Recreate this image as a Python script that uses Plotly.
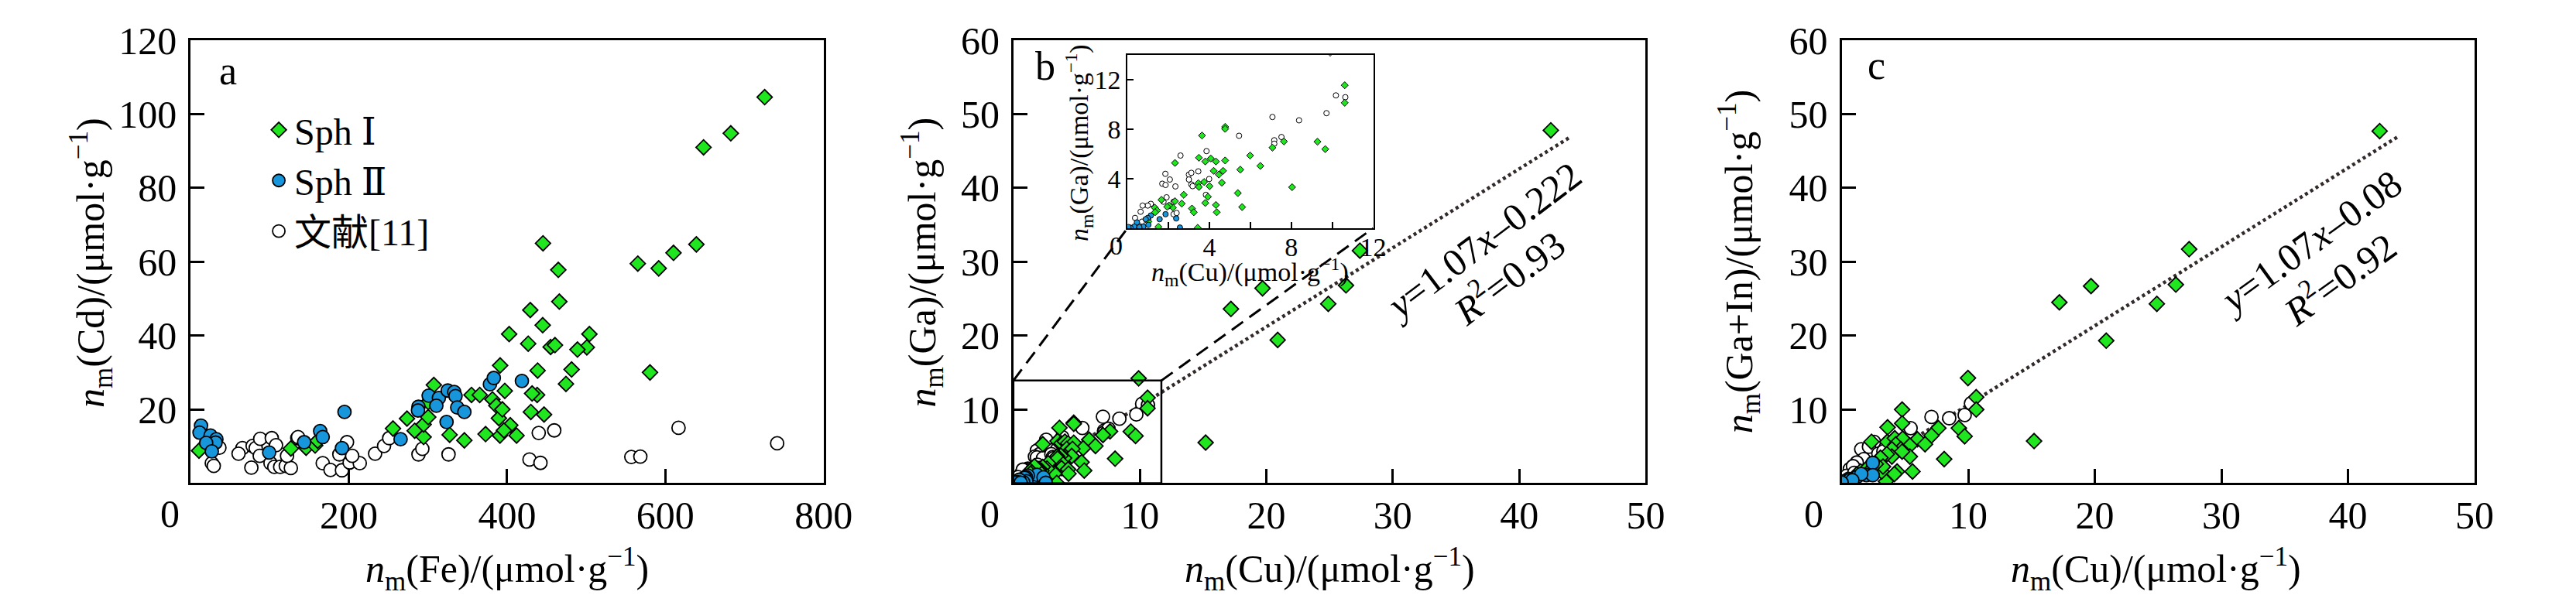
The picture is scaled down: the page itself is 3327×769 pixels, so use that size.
import plotly.graph_objects as go

W, H = 3327, 769
FONT = "Liberation Serif, DejaVu Serif, Noto Sans CJK SC, serif"
GREEN = "#1fe61f"
BLUE = "#1896dc"

# ----- data: panel a, Fe vs Cd -----
a_sph1_fe = [10.6, 126.7, 146, 157.4, 160.6, 255.8, 273.5, 283.2, 294.5, 294.5, 300.3, 300.3,
             307.4, 327.4, 346, 355, 365.4, 372.8, 381.5, 386.4, 391.2, 389.6, 391,
             725.5, 682.7, 648.3, 445.4, 464.7, 565.2, 591.6, 610.3, 639.2, 466, 429.3, 445,
             402.6, 426.7, 455, 460.5, 504, 500.8, 488.9, 580.6, 438.6, 481.5, 474.4, 397.1,
             438, 431.6, 430, 446.7, 394, 404, 396, 412]
a_sph1_cd = [8.8, 9.4, 9.6, 10.2, 11.5, 14.8, 17.5, 14.2, 12.5, 15.9, 17.9, 22,
             26.6, 13.1, 11.6, 23.9, 23.9, 13.3, 22.7, 21, 31.9, 17.6, 12.9,
             104.6, 94.8, 91.0, 65.0, 57.8, 59.5, 58.2, 62.4, 64.7, 49.2, 46.9, 42.8,
             40.4, 37.8, 36.9, 37.4, 40.4, 36.8, 36.2, 30.0, 30.5, 30.8, 26.9, 25.0,
             23.9, 24.3, 19.3, 18.6, 20.0, 15.7, 14.3, 12.9]
a_sph2_fe = [13.2, 11.3, 25.2, 32.6, 31.6, 19.7, 26.8, 99.3, 143.5, 163.8, 167, 194.5, 191.3,
             265.4, 288, 287.4, 300.9, 313.8, 310.6, 325, 333.2, 334.8, 337, 346, 323.5,
             378.3, 383.2, 418.7]
a_sph2_cd = [15.6, 13.7, 12.9, 11.9, 11.0, 10.9, 8.6, 8.3, 11.1, 14.1, 12.5, 19.3, 9.5,
             11.9, 20.7, 19.7, 23.7, 23.1, 21, 25.1, 24.7, 23.6, 20.5, 19.3, 16.6,
             26.8, 28.5, 27.7]
a_lit_fe = [26.8, 29.3, 36.4, 65.5, 60.6, 78.4, 82.3, 88, 102.6, 108, 87.4, 76.8, 101, 105.8,
            113.2, 120.3, 126.7, 121.9, 134.8, 135.8, 167, 176.8, 191.3, 188, 197.7, 201,
            213.8, 204.2, 233.2, 244.5, 251, 288, 292.9, 326, 440, 459.6, 616.7, 741.3,
            557, 568.4, 428.3, 442.2]
a_lit_cd = [5.4, 4.7, 9.6, 9.5, 8, 10.1, 9.5, 12, 12.2, 10.3, 7.4, 4.2, 5.4, 4.4,
            4.4, 4.7, 4.1, 7.4, 12.2, 12.5, 5.4, 3.6, 3.5, 7.8, 11.1, 5.6,
            5.4, 7.4, 8, 10.1, 12.2, 7.8, 9.3, 7.8, 13.6, 14.3, 15, 10.8,
            7.1, 7.2, 6.4, 5.5]

# ----- data: panel b, Cu vs Ga -----
b_sph1_cu = [10.61, 10.61, 9.28, 9.66, 7.64, 7.08, 8.04, 5.99, 6.49, 5.51, 5.39, 5.6, 4.77,
             4.77, 3.64, 3.49, 3.8, 4.07, 4.32, 4.77, 4.21, 4.46, 4.67, 4.61, 4.01, 3.74,
             3.46, 3.49, 3.93, 3.8, 4.32, 4.36, 3.15, 3.24, 3.43, 2.32, 2.75, 2.65, 2.32,
             2.22, 2.03, 1.94, 1.66, 1.51, 1.33, 1.45, 1.35, 1.02,
             42.5, 27.4, 19.7, 17.2, 26.3, 24.9, 20.9, 15.2, 9.9]
b_sph1_ga = [11.57, 10.15, 7.0, 6.4, 7.02, 6.52, 3.32, 5.88, 5.04, 4.74, 2.84, 1.71, 8.2,
             8.04, 7.5, 5.7, 5.4, 5.64, 5.4, 5.48, 4.64, 4.34, 4.64, 3.68, 3.4, 3.74,
             3.64, 3.34, 2.54, 2.04, 1.88, 1.29, 1.59, 1.29, 0.03, 5.28, 2.7, 1.99, 2.19,
             1.67, 1.83, 1.73, 2.3, 0.11, 1.67, 1.43, 1.29, 0.53,
             47.8, 31.5, 26.4, 23.6, 26.8, 24.3, 19.4, 5.5, 14.2]
b_sph2_cu = [1.57, 1.86, 2.38, 2.56, 1.14, 0.99, 0.89, 1.02, 0.77, 0.46, 0.33, 0.15, 0.05, 0.58]
b_sph2_ga = [0.73, 1.13, 0.79, 0.05, 1.03, 0.83, 0.73, 0.27, 0.13, 0.47, 0.13, 0.03, 0.09, 0.07]
b_lit_cu = [10.18, 10.64, 9.72, 8.38, 7.08, 7.17, 7.17, 7.52, 5.45, 3.86, 2.59, 1.85, 2.07,
            1.7, 1.86, 2.34, 3.0, 3.12, 3.46, 3.0, 3.12, 3.18, 3.99, 3.83, 1.91, 1.76,
            2.25, 2.25, 2.4, 1.14, 0.99, 0.64, 0.74, 0.37, 0.71, 1.02]
b_lit_ga = [10.75, 10.6, 9.31, 8.73, 9.0, 7.12, 6.84, 7.38, 7.48, 6.24, 5.88, 4.4, 3.94,
            3.6, 3.5, 3.38, 4.34, 4.48, 4.6, 3.94, 3.54, 3.4, 3.98, 2.7, 2.5, 2.14,
            2.14, 1.13, 1.23, 1.97, 1.83, 1.33, 1.83, 0.83, 0.53, 0.73]

# ----- data: panel c, Cu vs Ga+In -----
c_sph1_cu = [42.5, 27.45, 19.7, 17.2, 26.4, 24.9, 20.9, 15.2, 9.98, 10.63, 10.63,
             4.78, 4.78, 9.26, 9.72, 7.64, 7.1, 5.99, 6.59, 3.63, 2.36, 3.6, 4.2, 4.82, 5.39,
             4.27, 4.68, 3.97, 5.39, 4.78, 3.97, 3.57, 3.07, 8.1, 4.38, 5.6, 3.5, 3.16,
             4.17, 3.27, 1.5, 2.0, 2.3, 1.2, 2.7]
c_sph1_gain = [47.7, 31.7, 26.7, 24.5, 26.9, 24.3, 19.3, 5.7, 14.24, 11.65, 9.97,
               9.97, 8.1, 7.46, 6.35, 7.46, 6.45, 5.94, 5.27, 7.56, 5.61, 5.6, 6.1, 6.04, 5.1,
               5.25, 4.6, 4.6, 3.6, 4.27, 3.6, 3.93, 3.45, 3.26, 1.58, 1.58, 0.24, 1.58,
               1.24, 2.25, 1.6, 2.0, 1.8, 1.2, 2.6]
c_sph2_cu = [2.46, 1.96, 1.25, 0.55, 0.14, 2.46, 1.55, 0.6, 0.85, 0.0]
c_sph2_gain = [2.75, 1.08, 0.9, 0.57, 0.24, 1.08, 1.24, 0.4, 0.4, 0.1]
c_lit_cu = [7.1, 8.5, 9.72, 10.22, 5.45, 2.56, 1.96, 1.55, 1.75, 0.65, 2.16,
            1.2, 0.9, 2.9, 3.3, 0.4, 1.0]
c_lit_gain = [8.97, 8.8, 9.23, 10.8, 7.46, 5.6, 3.93, 4.6, 3.26, 1.91, 4.93,
              2.8, 2.3, 4.0, 4.3, 1.0, 1.4]

# regression lines (fit equations shown in the figure)
fit_x = [0.5, 44]
fit_b = (1.07, -0.222)
fit_c = (1.07, -0.08)

# zoom box of panel b and inset ranges
box_cu, box_ga = 11.7, 13.9
inset_xrange, inset_yrange = [0, 12], [0, 14]


def px(x):
    return x / W


def py(y):
    return 1 - y / H


dom_y = [py(619), py(25)]
dom_a = [px(249), px(1076)]
dom_b = [px(1324), px(2150)]
dom_c = [px(2406), px(3233)]
dom_inset_x = [px(1473), px(1794)]
dom_inset_y = [py(277), py(45)]


def sph1(x, y, xa, ya, size=15, lw=1.8, show=False):
    return go.Scatter(x=x, y=y, mode="markers", xaxis=xa, yaxis=ya, name="Sph Ⅰ",
                      legendrank=1, showlegend=show,
                      marker=dict(symbol="diamond", size=size, color=GREEN,
                                  line=dict(color="black", width=lw)))


def sph2(x, y, xa, ya, size=17, lw=1.8, show=False):
    return go.Scatter(x=x, y=y, mode="markers", xaxis=xa, yaxis=ya, name="Sph Ⅱ",
                      legendrank=2, showlegend=show,
                      marker=dict(symbol="circle", size=size, color=BLUE,
                                  line=dict(color="black", width=lw)))


def lit(x, y, xa, ya, size=17, lw=1.8, show=False):
    return go.Scatter(x=x, y=y, mode="markers", xaxis=xa, yaxis=ya, name="文献[11]",
                      legendrank=3, showlegend=show,
                      marker=dict(symbol="circle", size=size, color="white",
                                  line=dict(color="black", width=lw)))


def fit_line(coef, xa, ya):
    k, b0 = coef
    return go.Scatter(x=fit_x, y=[k * v + b0 for v in fit_x], mode="lines",
                      xaxis=xa, yaxis=ya, showlegend=False, hoverinfo="skip",
                      line=dict(color="#332a2a", width=4.5, dash="4px,4px"))


fig = go.Figure()

# panel a
fig.add_trace(lit(a_lit_fe, a_lit_cd, "x", "y", show=True))
fig.add_trace(sph1(a_sph1_fe, a_sph1_cd, "x", "y", show=True))
fig.add_trace(sph2(a_sph2_fe, a_sph2_cd, "x", "y", show=True))

# panel b
fig.add_trace(fit_line(fit_b, "x2", "y2"))
fig.add_trace(lit(b_lit_cu, b_lit_ga, "x2", "y2"))
fig.add_trace(sph1(b_sph1_cu, b_sph1_ga, "x2", "y2"))
fig.add_trace(sph2(b_sph2_cu, b_sph2_ga, "x2", "y2"))

# panel b inset
fig.add_trace(lit(b_lit_cu, b_lit_ga, "x4", "y4", size=7, lw=1))
fig.add_trace(sph1(b_sph1_cu, b_sph1_ga, "x4", "y4", size=7, lw=1))
fig.add_trace(sph2(b_sph2_cu, b_sph2_ga, "x4", "y4", size=7, lw=1))

# panel c
fig.add_trace(fit_line(fit_c, "x3", "y3"))
fig.add_trace(lit(c_lit_cu, c_lit_gain, "x3", "y3"))
fig.add_trace(sph1(c_sph1_cu, c_sph1_gain, "x3", "y3"))
fig.add_trace(sph2(c_sph2_cu, c_sph2_gain, "x3", "y3"))

axis_style = dict(showline=True, linewidth=3, linecolor="black", mirror=True,
                  ticks="inside", ticklen=18, tickwidth=3, tickcolor="black",
                  showgrid=False, zeroline=False, ticklabeloverflow="allow",
                  tickfont=dict(family=FONT, size=50, color="black"))
inset_style = dict(axis_style, linewidth=2, ticklen=8, tickwidth=2,
                   tickfont=dict(family=FONT, size=34, color="black"))
x_main = dict(axis_style, ticklabelstandoff=-4)
y_main = dict(axis_style, ticklabelstandoff=5)

fig.update_layout(
    width=W, height=H,
    margin=dict(l=0, r=0, t=0, b=0),
    paper_bgcolor="white", plot_bgcolor="white",
    font=dict(family=FONT, color="black"),
    xaxis=dict(x_main, domain=dom_a, range=[0, 800], tickvals=[200, 400, 600, 800],
               anchor="y"),
    yaxis=dict(y_main, domain=dom_y, range=[0, 120],
               tickvals=[20, 40, 60, 80, 100, 120], anchor="x"),
    xaxis2=dict(x_main, domain=dom_b, range=[0, 50], tickvals=[10, 20, 30, 40, 50],
                anchor="y2"),
    yaxis2=dict(y_main, domain=dom_y, range=[0, 60],
                tickvals=[10, 20, 30, 40, 50, 60], anchor="x2"),
    xaxis3=dict(x_main, domain=dom_c, range=[0, 50], tickvals=[10, 20, 30, 40, 50],
                anchor="y3"),
    yaxis3=dict(y_main, domain=dom_y, range=[0, 60],
                tickvals=[10, 20, 30, 40, 50, 60], anchor="x3"),
    xaxis4=dict(inset_style, domain=dom_inset_x, range=inset_xrange,
                tickvals=[4, 8, 12], anchor="y4", ticklabelstandoff=-7,
                minor=dict(tickvals=[2, 6, 10], ticks="inside", ticklen=8,
                           tickwidth=2, tickcolor="black", showgrid=False)),
    yaxis4=dict(inset_style, domain=dom_inset_y, range=inset_yrange,
                tickvals=[4, 8, 12], anchor="x4", ticklabelstandoff=0),
    legend=dict(x=px(344), y=py(106), xanchor="left", yanchor="top",
                font=dict(family=FONT, size=48), bgcolor="rgba(0,0,0,0)",
                traceorder="normal", itemsizing="trace"),
)


# zoom box in panel b and the connector lines to the inset
def to_paper(v, dom, rng):
    return dom[0] + (v - rng[0]) / (rng[1] - rng[0]) * (dom[1] - dom[0])


fig.add_shape(type="rect", xref="x2", yref="y2", x0=0, x1=box_cu, y0=0, y1=box_ga,
              line=dict(color="black", width=2.5))
box_left = to_paper(0, dom_b, [0, 50])
box_right = to_paper(box_cu, dom_b, [0, 50])
box_top = to_paper(box_ga, dom_y, [0, 60])
for xa, xb in [(box_left, dom_inset_x[0]), (box_right, dom_inset_x[1])]:
    fig.add_shape(type="line", xref="paper", yref="paper", x0=xa, y0=box_top,
                  x1=xb, y1=dom_inset_y[0],
                  line=dict(color="black", width=3, dash="18px,10px"))

NM = "<i>n</i><sub>m</sub>"
UNIT = "/(μmol·g<sup>−1</sup>)"


def note(text, x, y, size=50, angle=0):
    fig.add_annotation(text=text, xref="paper", yref="paper", x=px(x), y=py(y),
                       xanchor="center", yanchor="middle", showarrow=False,
                       textangle=angle, font=dict(family=FONT, size=size, color="black"))


# axis titles
note(NM + "(Fe)" + UNIT, 663, 734)
note(NM + "(Cu)" + UNIT, 1737, 734)
note(NM + "(Cu)" + UNIT, 2817, 734)
note(NM + "(Cd)" + UNIT, 119, 323, angle=-90)
note(NM + "(Ga)" + UNIT, 1205, 323, angle=-90)
note(NM + "(Ga+In)" + UNIT, 2272, 322, angle=-90)
note(NM + "(Cu)" + UNIT, 1633, 336, size=34)
note(NM + "(Ga)" + UNIT, 1409, 162, size=34, angle=-90)

# corner zero labels
note("0", 222, 660)
note("0", 1293, 660)
note("0", 2370, 660)
note("0", 1458, 300, size=34)

# panel letters
note("a", 298, 66, size=52)
note("b", 1366, 60, size=52)
note("c", 2452, 59, size=52)

# regression labels
note("<i>y</i>=1.07<i>x</i>–0.222", 1938, 294, angle=-37)
note("<i>R</i><sup>2</sup>=0.93", 1970, 341, angle=-37)
note("<i>y</i>=1.07<i>x</i>–0.08", 3018, 296, angle=-36)
note("<i>R</i><sup>2</sup>=0.92", 3055, 343, angle=-36)

fig.write_html("out.html", config={"displayModeBar": False},
               post_script="document.body.style.margin='0px';")
